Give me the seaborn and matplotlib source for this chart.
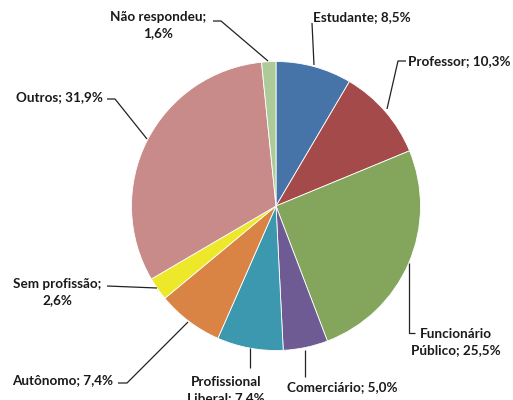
import matplotlib
matplotlib.use("Agg")
import matplotlib.pyplot as plt
import seaborn as sns

categories = ["Estudante", "Professor", "Funcionário Público", "Comerciário",
              "Profissional Liberal", "Autônomo", "Sem profissão", "Outros",
              "Não respondeu"]
shares = [8.5, 10.3, 25.5, 5.0, 7.4, 7.4, 2.6, 31.9, 1.6]
label_texts = ["Estudante; 8,5%", "Professor; 10,3%", "Funcionário\nPúblico; 25,5%",
               "Comerciário; 5,0%", "Profissional\nLiberal; 7,4%", "Autônomo; 7,4%",
               "Sem profissão;\n2,6%", "Outros; 31,9%", "Não respondeu;\n1,6%"]
slice_colors = ["#4674A8", "#A54A4A", "#83A65C", "#6F5B93", "#3C98AE",
                "#D98444", "#EDE82A", "#C98B8A", "#ADCB98"]

sns.set_theme(style="white")
plt.rcParams["font.family"] = ["Lato", "DejaVu Sans"]

W, H = 513, 400
fig = plt.figure(figsize=(W / 100, H / 100), dpi=100)
ax = fig.add_axes([0, 0, 1, 1])


def P(x, y):
    """Pixel position measured from the top-left corner -> axes data coords."""
    return (x, H - y)


palette = sns.color_palette(slice_colors)
ax.pie(shares, colors=palette, startangle=90, counterclock=False,
       center=P(276, 206), radius=144.5,
       wedgeprops=dict(edgecolor="white", linewidth=0.6))
ax.set_xlim(0, W)
ax.set_ylim(0, H)
ax.set_aspect("equal")
ax.axis("off")

# leader lines (polyline points) and text anchors for each slice
leaders = [
    [(312, 23), (314, 65)],
    [(406, 61), (398, 61), (387, 109)],
    [(409, 263), (409, 333), (415, 333)],
    [(305, 350), (305, 377)],
    [(250, 348), (250, 368)],
    [(118, 383), (127, 383), (188, 322)],
    [(107, 286), (157, 288)],
    [(107, 99), (115, 99), (147, 139)],
    [(213, 21), (221, 21), (268, 61)],
]
anchors = [
    ((313, 17), "left"),
    ((408, 61), "left"),
    ((456, 342), "center"),
    ((287, 387), "left"),
    ((226, 390), "center"),
    ((12, 380), "left"),
    ((57, 292), "center"),
    ((16, 97), "left"),
    ((158, 25), "center"),
]

for txt, pts, (pos, ha) in zip(label_texts, leaders, anchors):
    xs, ys = zip(*[P(*p) for p in pts])
    ax.plot(xs, ys, color="#222222", lw=0.9, solid_capstyle="butt")
    ax.text(*P(*pos), txt, ha=ha, va="center", fontsize=9.7,
            fontweight="bold", color="#1a1a1a", linespacing=1.4,
            multialignment="center")

fig.savefig("out.png", dpi=100)
